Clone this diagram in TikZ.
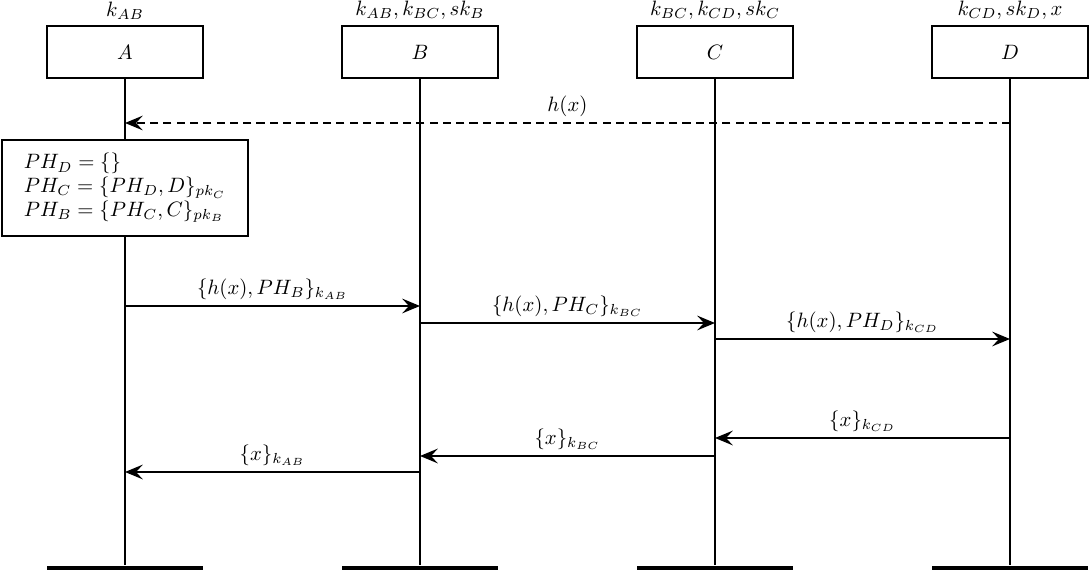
\documentclass[tikz,border=0pt]{standalone}
\usetikzlibrary{arrows.meta}
\begin{document}
\begin{tikzpicture}[x=0.4808pt,y=-0.4808pt,
  actor/.style={draw, line width=1.2pt, minimum width=75pt, minimum height=25pt, inner sep=0pt},
  endbar/.style={fill, minimum width=75pt, minimum height=2.1pt, inner sep=0pt},
  life/.style={line width=1.4pt},
  msg/.style={line width=1.4pt, -{Stealth[length=8.5pt,width=7pt,inset=3.2pt]}},
  hmsg/.style={line width=1.1pt, dash pattern=on 3.9pt off 2.5pt, -{Stealth[length=8.5pt,width=7pt,inset=3.2pt]}},
  lbl/.style={above, inner sep=2.5pt},
  know/.style={above, inner sep=2.2pt}]
\useasboundingbox (0,0) rectangle (1090,571);
% actors
\node[actor] (A) at (125,52) {$A$};
\node[actor] (B) at (420,52) {$B$};
\node[actor] (C) at (715,52) {$C$};
\node[actor] (D) at (1010,52) {$D$};
\node[know] (kA) at (A.north) {$k_{AB}$};
\node[know] (kB) at (B.north) {$k_{AB},k_{BC},sk_B$};
\node[know] (kC) at (C.north) {$k_{BC},k_{CD},sk_C$};
\node[know] (kD) at (D.north) {$k_{CD},sk_D,x$};
% end bars
\node[endbar] (Ae) at (125,568) {};
\node[endbar] (Be) at (420,568) {};
\node[endbar] (Ce) at (715,568) {};
\node[endbar] (De) at (1010,568) {};
% lifelines
\draw[life] (A) -- (Ae);
\draw[life] (B) -- (Be);
\draw[life] (C) -- (Ce);
\draw[life] (D) -- (De);
% message points
\coordinate (a0) at (125,123);
\coordinate (d0) at (1010,123);
\coordinate (a1) at (125,306);
\coordinate (b1) at (420,306);
\coordinate (b2) at (420,323);
\coordinate (c2) at (715,323);
\coordinate (c3) at (715,339);
\coordinate (d3) at (1010,339);
\coordinate (d4) at (1010,438);
\coordinate (c4) at (715,438);
\coordinate (c5) at (715,456);
\coordinate (b5) at (420,456);
\coordinate (b6) at (420,472);
\coordinate (a6) at (125,472);
% h(x)
\draw[hmsg] (d0) -- node[lbl] (lh) {$h(x)$} (a0);
% PH box
\node[draw, fill=white, line width=1.2pt, align=left, minimum width=118.3pt, minimum height=46.2pt, inner sep=0pt] (ph) at (125,188)
  {$PH_D=\{\}$\\[-0.5pt] $PH_C=\{PH_D,D\}_{pk_C}$\\[-0.5pt] $PH_B=\{PH_C,C\}_{pk_B}$};
% forward messages
\draw[msg] (a1) -- node[lbl] (l1) {$\{h(x),PH_B\}_{k_{AB}}$} (b1);
\draw[msg] (b2) -- node[lbl] (l2) {$\{h(x),PH_C\}_{k_{BC}}$} (c2);
\draw[msg] (c3) -- node[lbl] (l3) {$\{h(x),PH_D\}_{k_{CD}}$} (d3);
% return messages
\draw[msg] (d4) -- node[lbl] (l4) {$\{x\}_{k_{CD}}$} (c4);
\draw[msg] (c5) -- node[lbl] (l5) {$\{x\}_{k_{BC}}$} (b5);
\draw[msg] (b6) -- node[lbl] (l6) {$\{x\}_{k_{AB}}$} (a6);
\end{tikzpicture}
\end{document}
